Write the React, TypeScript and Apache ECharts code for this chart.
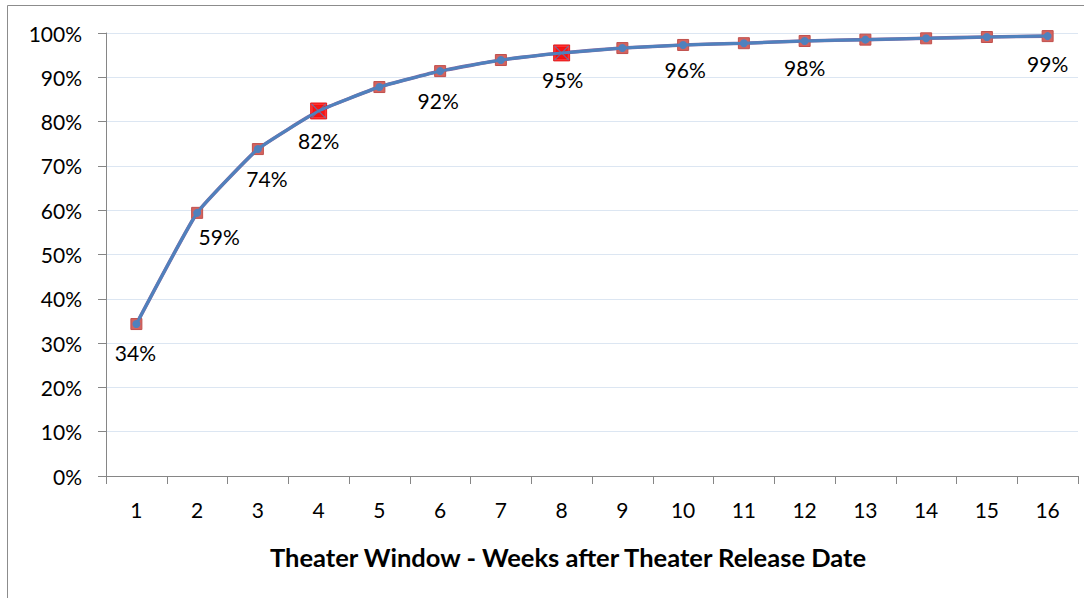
import React, { useEffect, useRef } from "react";
import * as echarts from "echarts";

const weeks = ["1", "2", "3", "4", "5", "6", "7", "8", "9", "10", "11", "12", "13", "14", "15", "16"];
const cumulativeShare = [34.3, 59.4, 73.8, 82.4, 87.8, 91.4, 93.9, 95.5, 96.6, 97.3, 97.7, 98.2, 98.5, 98.8, 99.1, 99.3];
const labelTexts = ["34%", "59%", "74%", "82%", "", "92%", "", "95%", "", "96%", "", "98%", "", "", "", "99%"];
const highlightIdx = [3, 7];
const yTicks = { min: 0, max: 100, interval: 10 };
const xTitle = "Theater Window - Weeks after Theater Release Date";

// label offsets (style only)
const labelOffsets: Record<number, [number, number]> = {
  0: [-1, 28],
  1: [22, 24],
  2: [9, 29],
  3: [0, 30],
  5: [-2, 29],
  7: [1, 27],
  9: [2, 25],
  11: [0, 27],
  15: [0, 27],
};

const FONT = "Lato, 'Open Sans', sans-serif";
const BLUE = "#4f81bd";
const RED = "#c0504d";
const CROSS = "path://M0,5 L5,0 L100,95 L95,100 Z M95,0 L100,5 L5,100 L0,95 Z";

export default function App() {
  const ref = useRef<HTMLDivElement>(null);
  useEffect(() => {
    if (!ref.current) return;
    const chart = echarts.init(ref.current, undefined, { renderer: "svg" });
    const redData = cumulativeShare.map((v, i) => ({
      value: v,
      label: labelTexts[i]
        ? {
            show: true,
            position: "inside",
            offset: labelOffsets[i] || [0, 27],
            formatter: labelTexts[i],
            color: "#000",
            fontSize: 21,
            fontFamily: FONT,
          }
        : { show: false },
    }));
    const blueData = cumulativeShare.map((v, i) =>
      highlightIdx.includes(i) ? { value: v, symbol: "none" } : { value: v }
    );
    const hiData = cumulativeShare.map((v, i) => (highlightIdx.includes(i) ? v : "-"));
    chart.setOption({
      animation: false,
      backgroundColor: "#fff",
      textStyle: { fontFamily: FONT },
      grid: { left: 106, right: 6, top: 33, bottom: 122, containLabel: false },
      title: {
        text: xTitle,
        left: 563,
        top: 539,
        textAlign: "center",
        textStyle: { fontFamily: FONT, fontSize: 25.5, fontWeight: "bold", color: "#000" },
      },
      graphic: [
        {
          type: "rect",
          shape: { x: 7.5, y: 5.5, width: 1200, height: 800 },
          style: { fill: "none", stroke: "#8c8c8c", lineWidth: 1 },
          silent: true,
        },
      ],
      xAxis: {
        type: "category",
        data: weeks,
        boundaryGap: true,
        axisLine: { lineStyle: { color: "#868686", width: 1 } },
        axisTick: { show: true, length: 8, lineStyle: { color: "#868686" } },
        axisLabel: { color: "#000", fontSize: 21, fontFamily: FONT, margin: 23 },
        splitLine: { show: false },
      },
      yAxis: {
        type: "value",
        min: yTicks.min,
        max: yTicks.max,
        interval: yTicks.interval,
        axisLine: { show: true, lineStyle: { color: "#868686", width: 1 } },
        axisTick: { show: true, length: 8, lineStyle: { color: "#868686" } },
        axisLabel: { color: "#000", fontSize: 21, fontFamily: FONT, margin: 24, formatter: "{value}%" },
        splitLine: { show: true, lineStyle: { color: "#dce6f2", width: 1 } },
      },
      series: [
        {
          type: "line",
          data: redData,
          smooth: 0.12,
          symbol: "rect",
          symbolSize: 11,
          itemStyle: { color: "#d4635f", borderColor: RED, borderWidth: 1 },
          lineStyle: { color: "#8a6aa0", width: 3.6 },
          z: 2,
        },
        {
          type: "scatter",
          data: hiData,
          symbol: "rect",
          symbolSize: 16,
          itemStyle: { color: "#ff0000", borderColor: "#e00000", borderWidth: 1 },
          z: 3,
        },
        {
          type: "line",
          data: blueData,
          smooth: 0.12,
          symbol: "circle",
          symbolSize: 8,
          showSymbol: true,
          itemStyle: { color: BLUE, borderColor: BLUE, borderWidth: 0 },
          lineStyle: { color: BLUE, width: 3 },
          z: 4,
        },
        {
          type: "scatter",
          data: hiData,
          symbol: CROSS,
          symbolSize: 15,
          itemStyle: { color: BLUE },
          z: 5,
        },
      ],
    });
    return () => chart.dispose();
  }, []);
  return (
    <div
      ref={ref}
      style={{ position: "fixed", left: 0, top: 0, width: 1084, height: 598, overflow: "hidden" }}
    />
  );
}
